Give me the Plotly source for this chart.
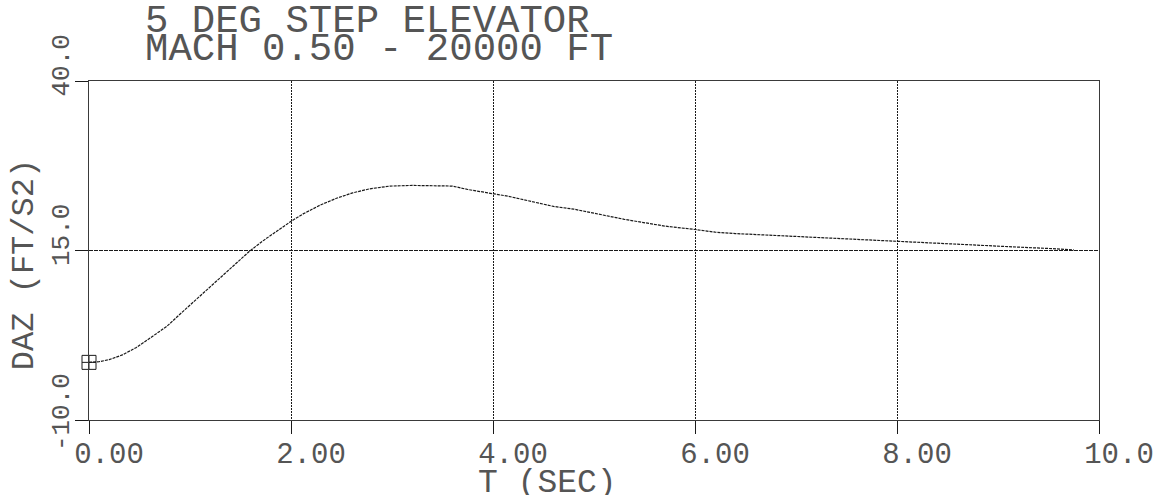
import plotly.graph_objects as go

# Step response samples: time (s) and normal acceleration DAZ (ft/s^2)
t_sec = [0.0, 0.1, 0.2, 0.33, 0.47, 0.6, 0.77, 0.9, 1.07, 1.23, 1.37, 1.49,
         1.59, 1.72, 1.86, 1.99, 2.12, 2.29, 2.45, 2.61, 2.78, 2.98, 3.2,
         3.4, 3.6, 3.75, 3.95, 4.15, 4.3, 4.45, 4.6, 4.8, 4.95, 5.1, 5.3,
         5.5, 5.7, 6.0, 6.2, 6.4, 6.8, 7.2, 7.6, 8.0, 8.4, 8.8, 9.2, 9.5, 9.75]
daz = [-1.5, -1.4, -1.1, -0.4, 0.7, 2.0, 3.8, 5.6, 7.9, 10.1, 12.0, 13.6,
       14.9, 16.4, 17.9, 19.2, 20.4, 21.7, 22.7, 23.5, 24.1, 24.5, 24.6,
       24.6, 24.5, 24.0, 23.5, 23.0, 22.5, 22.0, 21.5, 21.1, 20.7, 20.2, 19.6,
       19.1, 18.6, 18.1, 17.7, 17.5, 17.2, 16.9, 16.6, 16.4, 16.1, 15.8, 15.5,
       15.3, 15.1]

x_ticks = [0, 2, 4, 6, 8, 10]
x_tick_text = ["0.00", "2.00", "4.00", "6.00", "8.00", "10.0"]
y_ticks = [-10, 15, 40]
y_tick_text = ["-10.0", "\u00a015.0", "\u00a040.0"]

title_lines = ["5 DEG STEP ELEVATOR", "MACH 0.50 - 20000 FT"]
x_title = "T (SEC)"
y_title = "DAZ (FT/S2)"

W, H = 1166, 495
ML, MR, MT, MB = 89, 65, 81, 75
PW, PH = W - ML - MR, H - MT - MB
FONT = "Liberation Mono, DejaVu Sans Mono, monospace"
INK = "#1a1a1a"
TEXT_INK = "#555555"


def px_x(px):
    return (px - ML) / PW


def px_y(py):
    return (H - MB - py) / PH


fig = go.Figure()
fig.add_trace(go.Scatter(
    x=t_sec, y=daz, mode="lines",
    line=dict(color=INK, width=1.2, dash="3px,1px"),
    hoverinfo="skip", showlegend=False,
))
# start-of-curve symbol
fig.add_trace(go.Scatter(
    x=t_sec[:1], y=daz[:1], mode="markers", cliponaxis=False,
    marker=dict(symbol="square-cross-open", size=14, color=INK,
                line=dict(width=1, color=INK)),
    hoverinfo="skip", showlegend=False,
))

axis_common = dict(
    showgrid=True, gridcolor=INK, gridwidth=1,
    zeroline=False, showline=True, mirror=True,
    linecolor="#3a3a3a", linewidth=1,
    ticks="outside", ticklen=13, tickwidth=1, tickcolor=INK,
    fixedrange=True,
)
fig.update_xaxes(range=[0, 10], tickvals=x_ticks, ticktext=x_tick_text,
                 griddash="2px,1px", ticklabelshift=20,
                 ticklabelstandoff=-6,
                 tickfont=dict(family=FONT, size=29, color=TEXT_INK),
                 **axis_common)
fig.update_yaxes(range=[-10, 40], tickvals=y_ticks, ticktext=y_tick_text,
                 tickangle=-90, griddash="4px,1px", ticklabelshift=-4,
                 ticklabelstandoff=-4,
                 tickfont=dict(family=FONT, size=26, color=TEXT_INK),
                 **axis_common)

annotations = [
    dict(text=title_lines[0], x=px_x(143), y=px_y(22), xanchor="left",
         yanchor="middle", font=dict(size=39)),
    dict(text=title_lines[1], x=px_x(143), y=px_y(50), xanchor="left",
         yanchor="middle", font=dict(size=39)),
    dict(text=x_title, x=px_x(477), y=px_y(483), xanchor="left",
         yanchor="middle", font=dict(size=33)),
    dict(text=y_title, x=px_x(24), y=px_y(265), xanchor="center",
         yanchor="middle", textangle=-90, font=dict(size=32)),
]
for a in annotations:
    a.update(xref="paper", yref="paper", showarrow=False)
    a["font"].update(family=FONT, color=TEXT_INK)

fig.update_layout(
    width=W, height=H,
    margin=dict(l=ML, r=MR, t=MT, b=MB, pad=0),
    paper_bgcolor="white", plot_bgcolor="white",
    annotations=annotations,
    showlegend=False,
)

fig.write_html("out.html", config={"displayModeBar": False})
